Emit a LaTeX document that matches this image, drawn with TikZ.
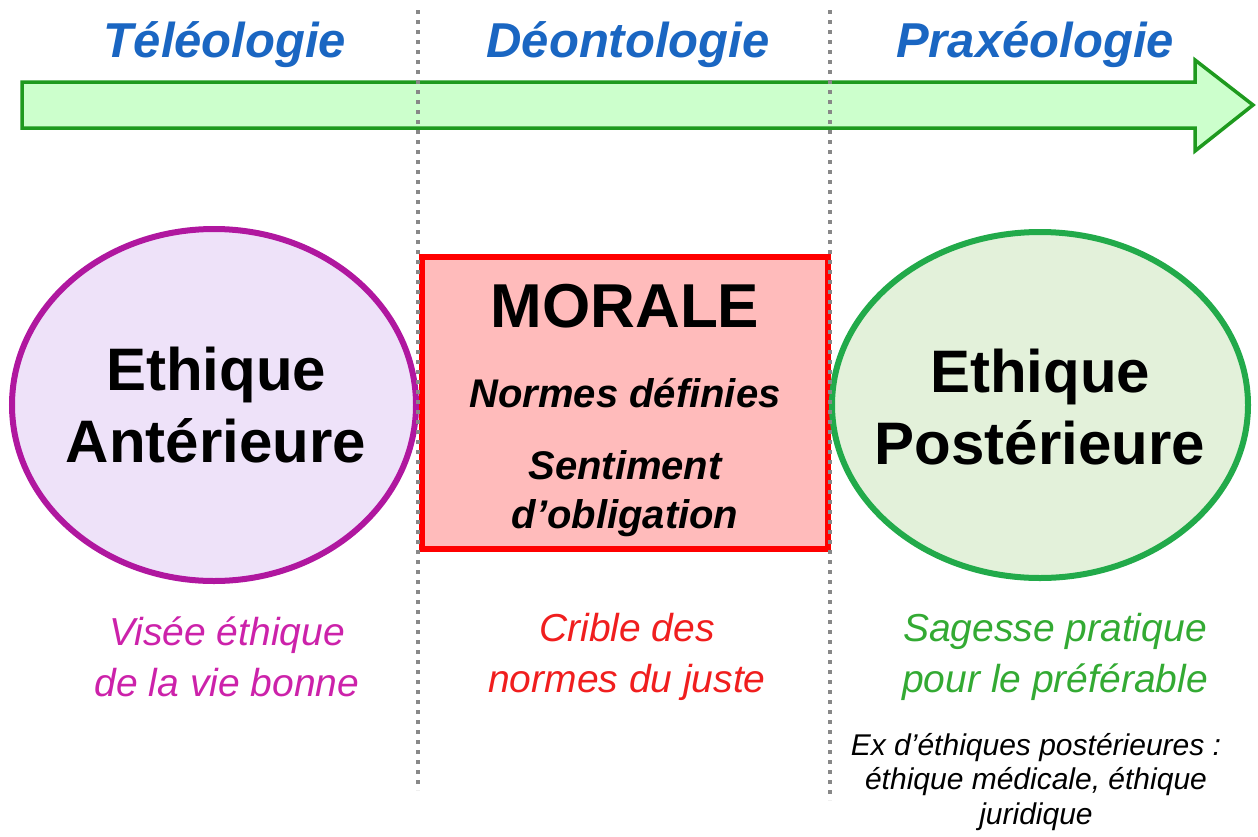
\documentclass[tikz,border=0pt]{standalone}
\usepackage{fontspec}
\setmainfont{Liberation Sans}
\usetikzlibrary{shapes.geometric}
\definecolor{titleblue}{HTML}{1A66C2}
\definecolor{arrowfill}{HTML}{CCFFCC}
\definecolor{arrowdraw}{HTML}{1E9A1E}
\definecolor{purpdraw}{HTML}{B0179F}
\definecolor{purpfill}{HTML}{EEE2F9}
\definecolor{redfill}{HTML}{FFBBBB}
\definecolor{greendraw}{HTML}{22AA4A}
\definecolor{greenfill}{HTML}{E3F1DA}
\definecolor{magtext}{HTML}{CC22AA}
\definecolor{redtext}{HTML}{F01E1E}
\definecolor{greentext}{HTML}{33AA33}
\definecolor{dotgray}{HTML}{888888}
\tikzset{
  ttl/.style={font=\fontsize{49}{56}\selectfont\bfseries\itshape, text=titleblue},
  bigtxt/.style={font=\fontsize{60}{72}\selectfont\bfseries, align=center},
  subtxt/.style={font=\fontsize{40}{49}\selectfont\bfseries\itshape, align=center},
  captxt/.style={font=\fontsize{39}{51}\selectfont\itshape, align=center},
  smalltxt/.style={font=\fontsize{30}{34.5}\selectfont\itshape, align=center},
  sep/.style={dotgray, line width=4pt, dash pattern=on 4pt off 6pt},
}
\begin{document}
\begin{tikzpicture}[x=1pt,y=-1pt]
\useasboundingbox (0,0) rectangle (1258,836);
% arrow
\draw[arrowdraw, fill=arrowfill, line width=3.5pt, line join=miter]
  (22,82) -- (1195,82) -- (1195,60) -- (1253,105) -- (1195,151) -- (1195,128) -- (22,128) -- cycle;
% separators
\coordinate (s1t) at (418,10); \coordinate (s1b) at (418,790);
\coordinate (s2t) at (830,10); \coordinate (s2b) at (830,800);
% shapes
\node[ellipse, draw=purpdraw, fill=purpfill, line width=6pt, minimum width=404pt, minimum height=352pt, inner sep=0pt] (ea) at (214,405) {};
\node[draw=red, fill=redfill, line width=6pt, minimum width=406pt, minimum height=292pt, inner sep=0pt] (mor) at (625,403) {};
\node[ellipse, draw=greendraw, fill=greenfill, line width=6pt, minimum width=416pt, minimum height=346pt, inner sep=0pt] (ep) at (1040,405) {};
\draw[sep] (s1t) -- (s1b);
\draw[sep] (s2t) -- (s2b);
% titles
\node[ttl] (t1) at (225,45) {Téléologie};
\node[ttl] (t2) at (628,45) {Déontologie};
\node[ttl] (t3) at (1035,45) {Praxéologie};
% texts in shapes
\node[bigtxt] (ta) at (216,405) {Ethique\\Antérieure};
\node[font=\fontsize{62}{70}\selectfont\bfseries] (tm) at (625,306) {MORALE};
\node[subtxt] (tn) at (625,393) {Normes définies};
\node[subtxt] (ts) at (625,494) {Sentiment\\d’obligation};
\node[bigtxt] (tp) at (1040,407) {Ethique\\Postérieure};
% captions
\node[captxt, text=magtext] (c1) at (227,657) {Visée éthique\\de la vie bonne};
\node[captxt, text=redtext] (c2) at (627,657) {Crible des\\normes du juste};
\node[captxt, text=greentext] (c3) at (1055,657) {Sagesse pratique\\pour le préférable};
\node[smalltxt] (c4) at (1036,782) {Ex d’éthiques postérieures :\\éthique médicale, éthique\\juridique};
\end{tikzpicture}
\end{document}
